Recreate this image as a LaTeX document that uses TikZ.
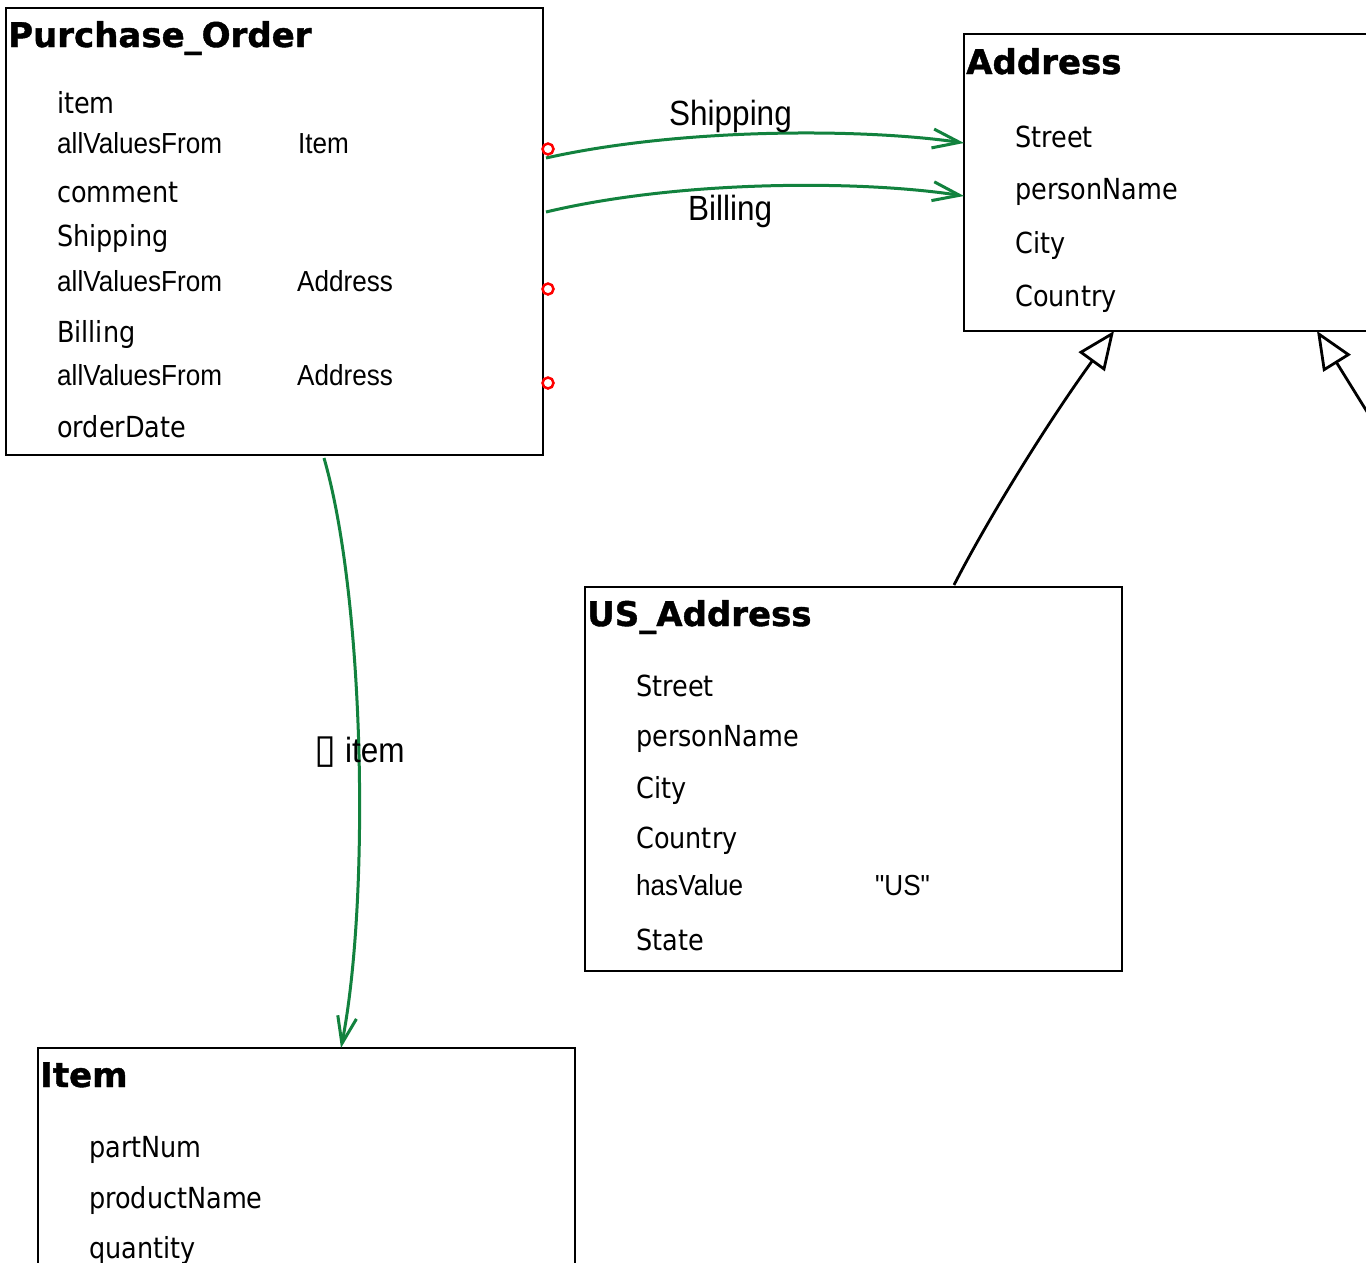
\documentclass[tikz,border=0pt]{standalone}
\usepackage{fontspec}
\usetikzlibrary{arrows.meta}
\newfontfamily\titlefont{DejaVu Sans}[BoldFeatures={FakeBold=1.2}]
\newfontfamily\attrfont[FakeStretch=0.88]{DejaVu Sans}
\newfontfamily\arialfont[FakeStretch=0.9]{Liberation Sans}
\newfontfamily\symfont{DejaVu Sans}
\definecolor{assocgreen}{RGB}{18,130,62}
\begin{document}
\begin{tikzpicture}[x=1pt,y=-1pt,
  box/.style={draw, line width=2.8pt, inner sep=0pt, outer sep=0pt, anchor=north west},
  ttl/.style={anchor=base west, inner sep=0pt, font=\titlefont\bfseries\fontsize{34}{40}\selectfont},
  att/.style={anchor=base west, inner sep=0pt, font=\attrfont\fontsize{29}{34}\selectfont},
  rst/.style={anchor=base west, inner sep=0pt, font=\arialfont\fontsize{29}{34}\selectfont},
  elab/.style={anchor=base west, inner sep=0pt, font=\arialfont\fontsize{35}{40}\selectfont},
  assoc/.style={draw=assocgreen, line width=3pt, -{Straight Barb[length=27pt,width=19pt]}},
  gen/.style={draw=black, line width=2.8pt, -{Triangle[length=38pt,width=32pt,fill=white]}},
  port/.style={circle, draw=red, line width=2.5pt, minimum size=11pt, inner sep=0pt}]
\useasboundingbox (0,0) rectangle (1366,1262);
\clip (0,0) rectangle (1366,1262);
\fill[white] (0,0) rectangle (1366,1262);

% boxes
\node[box, minimum width=537pt, minimum height=447pt] (po) at (6,8) {};
\node[box, minimum width=450pt, minimum height=297pt] (addr) at (964,34) {};
\node[box, minimum width=537pt, minimum height=384pt] (usa) at (585,587) {};
\node[box, minimum width=537pt, minimum height=260pt] (itm) at (38,1048) {};

% Purchase_Order
\node[ttl] (poT) at (8,47) {Purchase\_Order};
\node[att] (po1) at (57,113) {item};
\node[rst] (po2) at (57,153) {allValuesFrom};
\node[rst] (po2v) at (298,153) {Item};
\node[att] (po3) at (57,202) {comment};
\node[att] (po4) at (57,246) {Shipping};
\node[rst] (po5) at (57,291) {allValuesFrom};
\node[rst] (po5v) at (297,291) {Address};
\node[att] (po6) at (57,342) {Billing};
\node[rst] (po7) at (57,385) {allValuesFrom};
\node[rst] (po7v) at (297,385) {Address};
\node[att] (po8) at (57,437) {orderDate};

% ports
\node[port] (pt1) at (548,149) {};
\node[port] (pt2) at (548,289) {};
\node[port] (pt3) at (548,383) {};

% Address
\node[ttl] (adT) at (966,74) {Address};
\node[att] (ad1) at (1015,147) {Street};
\node[att] (ad2) at (1015,199) {personName};
\node[att] (ad3) at (1015,253) {City};
\node[att] (ad4) at (1015,306) {Country};

% US_Address
\node[ttl] (usT) at (587,626) {US\_Address};
\node[att] (us1) at (636,696) {Street};
\node[att] (us2) at (636,746) {personName};
\node[att] (us3) at (636,798) {City};
\node[att] (us4) at (636,848) {Country};
\node[rst] (us5) at (636,895) {hasValue};
\node[rst] (us5v) at (875,895) {"US"};
\node[att] (us6) at (636,950) {State};

% Item
\node[ttl] (itT) at (40,1087) {Item};
\node[att] (it1) at (89,1157) {partNum};
\node[att] (it2) at (89,1208) {productName};
\node[att] (it3) at (89,1258) {quantity};

% associations
\draw[assoc] ([xshift=3pt,yshift=-150pt]po.north east) .. controls +(134,-30) and +(-104,-15) .. ([yshift=-109pt]addr.north west);
\draw[assoc] ([xshift=3pt,yshift=-204pt]po.north east) .. controls +(134,-32) and +(-104,-16) .. ([yshift=-162pt]addr.north west);
\draw[assoc] ([xshift=49.5pt,yshift=-3pt]po.south) .. controls +(41,142) and +(29,-147) .. ([xshift=303pt]itm.north west);

\node[elab] (lship) at (669,125) {Shipping};
\node[elab] (lbill) at (688,220) {Billing};
\node[elab] (litem) at (314,762) {{\symfont\fontsize{40}{44}\selectfont ▯}\hspace{9pt}item};

% generalizations
\draw[gen] ([xshift=369pt,yshift=2pt]usa.north west) .. controls +(36,-70) and +(-64,88) .. ([xshift=150pt]addr.south west);
\coordinate (offr) at (1392,452);
\draw[gen] (offr) -- ([xshift=353pt]addr.south west);
\end{tikzpicture}
\end{document}
